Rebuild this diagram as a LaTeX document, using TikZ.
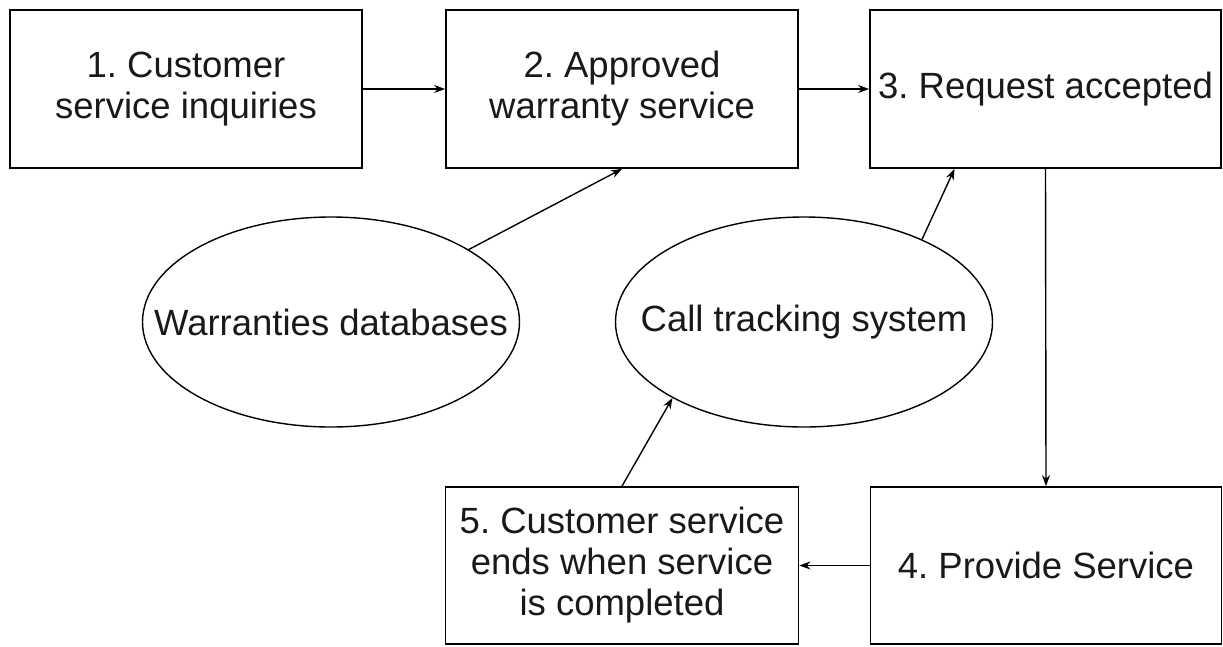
\documentclass[tikz,border=0pt]{standalone}
\usepackage{fontspec}
\setmainfont{Liberation Sans}
\frenchspacing
\usetikzlibrary{shapes.geometric,arrows.meta}
\begin{document}
\begin{tikzpicture}[x=1pt,y=-1pt,
  every node/.style={font=\fontsize{36.5}{41}\selectfont, text=black!90, align=center, inner sep=0pt},
  stepbox/.style={draw, line width=1.8pt, rectangle, minimum width=352pt, minimum height=158pt},
  dbell/.style={draw, line width=1.4pt, ellipse, minimum width=377pt, minimum height=210pt},
  arr/.style={line width=1.4pt, -{Stealth[length=11pt,width=8pt]}}]
\useasboundingbox (0,0) rectangle (1223,646);
\node[stepbox] (b1) at (186,89) {1. Customer\\service inquiries};
\node[stepbox] (b2) at (622,89) {2. Approved\\warranty service};
\node[stepbox, minimum width=351pt] (b3) at (1045.5,89) {3. Request accepted};
\node[stepbox, minimum width=351pt, minimum height=157pt] (b4) at (1046,565.5) {4. Provide Service};
\node[stepbox, minimum width=353pt, minimum height=157pt] (b5) at (622,565.5) {5. Customer service\\ends when service\\is completed};
\node[dbell] (e1) at (331,322) {\makebox[0pt]{Warranties databases}};
\node[dbell] (e2) at (804,322) {\makebox[0pt]{Call tracking system}};
\coordinate (b3in) at ([xshift=-91pt]b3.south);
\draw[arr] (b1.east) -- (b2.west);
\draw[arr] (b2.east) -- (b3.west);
\draw[arr] (b3.south) -- (b4.north);
\draw[arr] (b4.west) -- (b5.east);
\draw[arr] (e1) -- (b2.south);
\draw[arr] (e2.35) -- (b3in);
\draw[arr] (b5.north) -- (e2.210);
\end{tikzpicture}
\end{document}
